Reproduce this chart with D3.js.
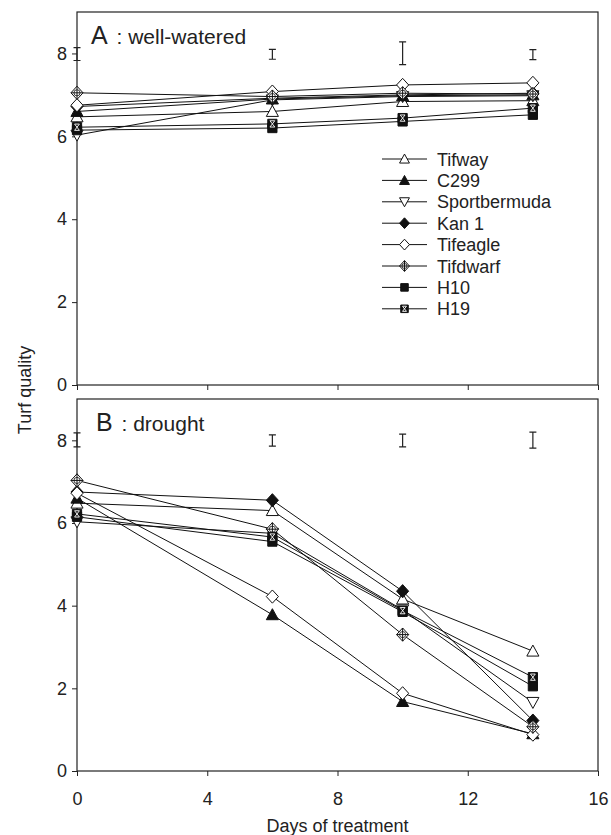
<!DOCTYPE html>
<html>
<head>
<meta charset="utf-8">
<script src="https://cdn.jsdelivr.net/npm/d3@7"></script>
<style>
  body { margin: 0; background: #fff; }
  text { font-family: "Liberation Sans", Arial, sans-serif; fill: #222; }
</style>
</head>
<body>
<div id="chart"></div>
<script>
const days = [0, 6, 10, 14];
const cultivars = ["Tifway", "C299", "Sportbermuda", "Kan 1", "Tifeagle", "Tifdwarf", "H10", "H19"];
const symbols = ["triUp", "triUpFill", "triDown", "diamondFill", "diamond", "diamondCross", "squareFill", "squareH"];

// panel A : well-watered
const wellWatered = [
  [6.47, 6.60, 6.84, 6.86],
  [6.60, 6.90, 6.98, 7.00],
  [6.03, 6.88, 6.96, 6.98],
  [6.72, 6.92, 7.00, 7.04],
  [6.75, 7.08, 7.24, 7.29],
  [7.05, 6.96, 7.04, 7.02],
  [6.15, 6.20, 6.36, 6.52],
  [6.22, 6.30, 6.44, 6.68]
];
// panel B : drought
const drought = [
  [6.48, 6.30, 4.16, 2.90],
  [6.60, 3.78, 1.68, 0.90],
  [6.03, 5.75, 3.90, 1.66],
  [6.75, 6.55, 4.35, 1.22],
  [6.72, 4.22, 1.88, 0.88],
  [7.03, 5.85, 3.30, 1.07],
  [6.15, 5.55, 3.85, 2.05],
  [6.22, 5.66, 3.88, 2.27]
];
// LSD bars: day, low, high
const lsdA = [[0, 7.83, 8.14], [6, 7.86, 8.10], [10, 7.73, 8.28], [14, 7.85, 8.09]];
const lsdB = [[0, 7.84, 8.18], [6, 7.86, 8.13], [10, 7.84, 8.15], [14, 7.81, 8.20]];

const xTicks = [0, 4, 8, 12, 16];
const yTicks = [0, 2, 4, 6, 8];

const W = 611, H = 835;
const svg = d3.select("#chart").append("svg")
    .attr("width", W)
    .attr("height", H);

const x = d3.scaleLinear().domain([0, 16]).range([77, 598]);

function markerPath(type, s) {
  const p = d3.path();
  if (type.startsWith("triUp")) {
    p.moveTo(0, -s * 0.55); p.lineTo(s * 0.55, s * 0.45); p.lineTo(-s * 0.55, s * 0.45); p.closePath();
  } else if (type === "triDown") {
    p.moveTo(0, s * 0.55); p.lineTo(s * 0.55, -s * 0.45); p.lineTo(-s * 0.55, -s * 0.45); p.closePath();
  } else if (type.startsWith("diamond")) {
    p.moveTo(0, -s * 0.6); p.lineTo(s * 0.55, 0); p.lineTo(0, s * 0.6); p.lineTo(-s * 0.55, 0); p.closePath();
  } else {
    p.rect(-s * 0.42, -s * 0.42, s * 0.84, s * 0.84);
  }
  return p.toString();
}

function drawMarker(g, type, cx, cy, s) {
  const m = g.append("g").attr("transform", "translate(" + cx + "," + cy + ")");
  const filled = type.endsWith("Fill") || type === "squareH";
  m.append("path")
    .attr("d", markerPath(type, s))
    .attr("fill", filled ? "#111" : "#fff")
    .attr("stroke", "#111")
    .attr("stroke-width", 1);
  if (type === "diamondCross") {
    m.append("path")
      .attr("d", "M0," + (-s * 0.6) + "V" + (s * 0.6) + "M" + (-s * 0.55) + ",0H" + (s * 0.55))
      .attr("stroke", "#111").attr("stroke-width", 1);
    m.append("circle").attr("r", s * 0.28).attr("fill", "none").attr("stroke", "#111").attr("stroke-width", 0.8);
  }
  if (type === "squareH") {
    const a = s * 0.22;
    m.append("path")
      .attr("d", "M" + (-a) + "," + (-a * 1.3) + "H" + a + "L" + (-a) + "," + (a * 1.3) + "H" + a + "Z")
      .attr("fill", "none").attr("stroke", "#fff").attr("stroke-width", 0.9);
  }
}

function drawPanel(data, lsd, top, bottom, label, subtitle, labelX, showXLabels) {
  const y = d3.scaleLinear().domain([0, 9]).range([bottom, top]);
  const g = svg.append("g");

  // frame
  g.append("rect")
    .attr("x", x(0)).attr("y", top)
    .attr("width", x(16) - x(0)).attr("height", bottom - top)
    .attr("fill", "none").attr("stroke", "#222").attr("stroke-width", 1.2);

  const yAxis = g.append("g")
    .attr("transform", "translate(" + x(0) + ",0)")
    .call(d3.axisLeft(y).tickValues(yTicks).tickSize(5).tickPadding(5).tickFormat(d3.format("d")));
  yAxis.select(".domain").remove();
  yAxis.selectAll("line").attr("stroke", "#222");
  yAxis.selectAll("text").style("font-size", "18px").attr("fill", "#222")
    .style("font-family", "Liberation Sans, Arial, sans-serif");

  const xAxis = g.append("g")
    .attr("transform", "translate(0," + bottom + ")")
    .call(d3.axisBottom(x).tickValues(xTicks).tickSize(5).tickPadding(16)
      .tickFormat(showXLabels ? d3.format("d") : ""));
  xAxis.select(".domain").remove();
  xAxis.selectAll("line").attr("stroke", "#222");
  xAxis.selectAll("text").style("font-size", "18px").attr("fill", "#222")
    .style("font-family", "Liberation Sans, Arial, sans-serif");

  // LSD bars
  lsd.forEach(d => {
    const cx = x(d[0]);
    g.append("path")
      .attr("d", "M" + (cx - 3.5) + "," + y(d[2]) + "H" + (cx + 3.5) +
                 "M" + cx + "," + y(d[2]) + "V" + y(d[1]) +
                 "M" + (cx - 3.5) + "," + y(d[1]) + "H" + (cx + 3.5))
      .attr("stroke", "#222").attr("stroke-width", 1.2).attr("fill", "none");
  });

  const line = d3.line().x((d, i) => x(days[i])).y(d => y(d));
  data.forEach(vals => {
    g.append("path").attr("d", line(vals))
      .attr("fill", "none").attr("stroke", "#111").attr("stroke-width", 1);
  });
  data.forEach((vals, k) => {
    vals.forEach((v, i) => drawMarker(g, symbols[k], x(days[i]), y(v), 11));
  });

  const t = g.append("text").attr("x", labelX).attr("y", top + 32);
  t.append("tspan").style("font-size", "25px").text(label);
  t.append("tspan").style("font-size", "21px").attr("dx", 3).text(" : " + subtitle);
}

drawPanel(wellWatered, lsdA, 12, 385, "A", "well-watered", 91, false);
drawPanel(drought, lsdB, 399, 771, "B", "drought", 96, true);

// legend
const legend = svg.append("g").attr("transform", "translate(382,159)");
cultivars.forEach((name, i) => {
  const row = legend.append("g").attr("transform", "translate(0," + (i * 21.4) + ")");
  row.append("line").attr("x1", 0).attr("x2", 45).attr("y1", 0).attr("y2", 0)
    .attr("stroke", "#111").attr("stroke-width", 1);
  drawMarker(row, symbols[i], 22.5, 0, 9);
  row.append("text").attr("x", 55).attr("y", 6.5).style("font-size", "18px").text(name);
});

// axis titles
svg.append("text")
  .attr("transform", "translate(31,390) rotate(-90)")
  .attr("text-anchor", "middle")
  .style("font-size", "18px")
  .text("Turf quality");

svg.append("text")
  .attr("x", x(8)).attr("y", 832)
  .attr("text-anchor", "middle")
  .style("font-size", "18px")
  .text("Days of treatment");
</script>
</body>
</html>
